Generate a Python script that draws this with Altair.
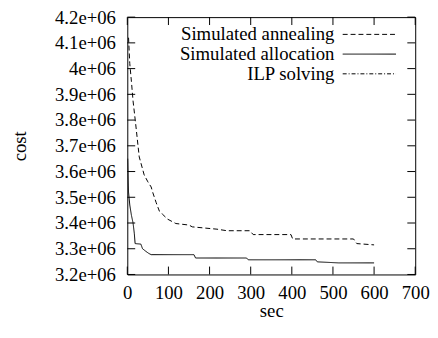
import altair as alt
import pandas as pd

# ---- data ----
series_names = ["Simulated annealing", "Simulated allocation", "ILP solving"]

ann_sec = [3, 6, 10, 14, 20, 29, 41, 50, 58, 62, 70, 78, 85, 98, 118, 150, 158,
           218, 242, 298, 306, 398, 402, 550, 558, 600]
ann_cost = [4.12e6, 4.02e6, 3.95e6, 3.874e6, 3.79e6, 3.657e6, 3.587e6, 3.56e6,
            3.54e6, 3.518e6, 3.48e6, 3.446e6, 3.435e6, 3.415e6, 3.398e6, 3.392e6,
            3.385e6, 3.376e6, 3.37e6, 3.37e6, 3.355e6, 3.355e6, 3.338e6, 3.338e6,
            3.32e6, 3.315e6]

alloc_sec = [1, 3, 6, 10, 14, 17, 19, 33, 37, 45, 52, 58, 162, 166, 290, 294,
             458, 462, 514, 600]
alloc_cost = [3.65e6, 3.52e6, 3.47e6, 3.43e6, 3.40e6, 3.36e6, 3.32e6, 3.318e6,
              3.30e6, 3.29e6, 3.282e6, 3.277e6, 3.277e6, 3.264e6, 3.264e6,
              3.257e6, 3.257e6, 3.249e6, 3.245e6, 3.245e6]

x_ticks = [0, 100, 200, 300, 400, 500, 600, 700]
y_ticks = [3.2e6, 3.3e6, 3.4e6, 3.5e6, 3.6e6, 3.7e6, 3.8e6, 3.9e6, 4.0e6, 4.1e6, 4.2e6]

# ---- layout / style ----
W, H = 292, 261
TL = 8
FONT = "Liberation Serif, Times New Roman, Times, serif"
FS = 19

df = pd.concat([
    pd.DataFrame({"sec": ann_sec, "cost": ann_cost, "series": series_names[0]}),
    pd.DataFrame({"sec": alloc_sec, "cost": alloc_cost, "series": series_names[1]}),
], ignore_index=True)

xs = alt.Scale(domain=[0, 700], nice=False)
ys = alt.Scale(domain=[3.2e6, 4.2e6], nice=False, zero=False)

x_axis = alt.Axis(values=x_ticks, title="sec", grid=False, domain=False,
                  ticks=False, tickSize=0, labelPadding=9,
                  titleX=W / 2, titleY=37, titleBaseline="middle",
                  titleAlign="center", labelFlush=False)
y_axis = alt.Axis(values=y_ticks, title="cost", grid=False, domain=False,
                  ticks=False, tickSize=0, labelPadding=12,
                  labelExpr="replace(format(datum.value, '.1~e'), 'e+6', 'e+06')",
                  titleX=-109, titleY=H / 2, titleAngle=270,
                  titleAlign="center", titleBaseline="middle",
                  labelFlush=False)

lines = alt.Chart(df).mark_line(color="black", strokeWidth=1, clip=True).encode(
    x=alt.X("sec:Q", scale=xs, axis=x_axis, title="sec"),
    y=alt.Y("cost:Q", scale=ys, axis=y_axis, title="cost"),
    strokeDash=alt.StrokeDash(
        "series:N",
        scale=alt.Scale(domain=series_names, range=[[5, 3], [1, 0], [4, 2, 1, 2]]),
        legend=alt.Legend(title=None, orient="none", legendX=236, legendY=8,
                          symbolType="M-5,0H5", symbolSize=117,
                          symbolStrokeWidth=1, symbolStrokeColor="black",
                          labelAlign="right", labelOffset={"expr": "-45"},
                          labelFont=FONT, labelFontSize=FS, labelColor="black",
                          labelLimit=0, rowPadding=0, padding=0),
    ),
)

ytk = pd.DataFrame({"cost": y_ticks})
xtk = pd.DataFrame({"sec": x_ticks})

left_t = alt.Chart(ytk).mark_rule(color="black", strokeWidth=1).encode(
    y=alt.Y("cost:Q", scale=ys, axis=y_axis, title="cost"), x=alt.value(0), x2=alt.value(TL))
right_t = alt.Chart(ytk).mark_rule(color="black", strokeWidth=1).encode(
    y=alt.Y("cost:Q", scale=ys, axis=y_axis, title="cost"), x=alt.value(W - TL), x2=alt.value(W))
bot_t = alt.Chart(xtk).mark_rule(color="black", strokeWidth=1).encode(
    x=alt.X("sec:Q", scale=xs, axis=x_axis, title="sec"), y=alt.value(H - TL), y2=alt.value(H))
top_t = alt.Chart(xtk).mark_rule(color="black", strokeWidth=1).encode(
    x=alt.X("sec:Q", scale=xs, axis=x_axis, title="sec"), y=alt.value(0), y2=alt.value(TL))

chart = alt.layer(lines, left_t, right_t, bot_t, top_t).properties(
    width=W, height=H,
    autosize=alt.AutoSizeParams(type="none"),
    padding={"left": 121, "top": 7, "right": 15, "bottom": 50},
    background="white",
).configure_view(
    stroke="black", strokeWidth=1
).configure_axis(
    labelFont=FONT, labelFontSize=FS, labelColor="black",
    titleFont=FONT, titleFontSize=FS, titleColor="black", titleFontWeight="normal",
).configure_legend(
    labelFont=FONT, labelFontSize=FS, labelColor="black",
)

chart.save("out.html", embed_options={"renderer": "svg", "actions": False})
